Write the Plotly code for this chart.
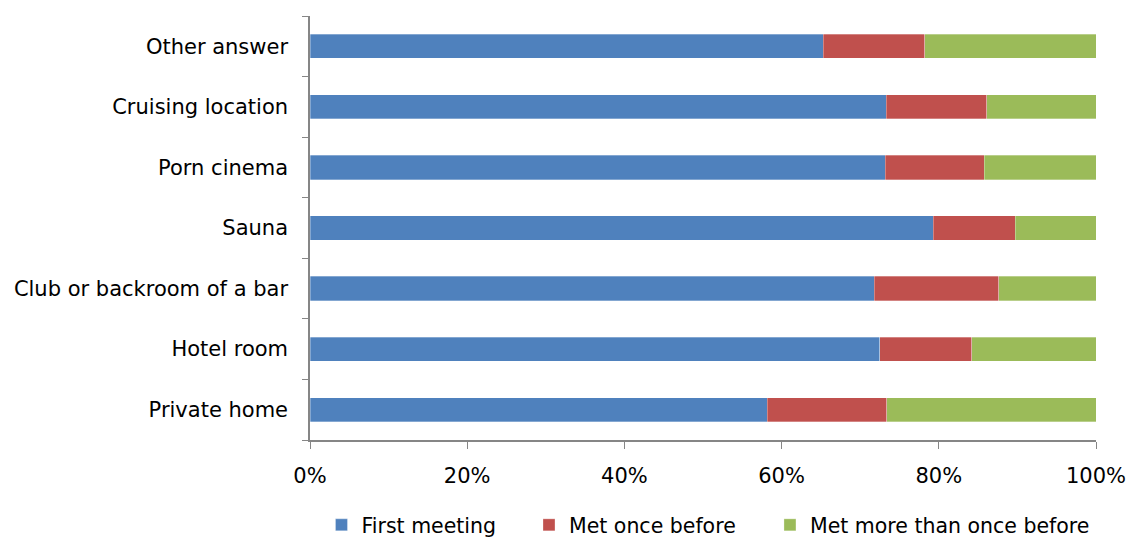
import plotly.graph_objects as go

categories = ["Private home", "Hotel room", "Club or backroom of a bar", "Sauna",
              "Porn cinema", "Cruising location", "Other answer"]
first_meeting = [58.2, 72.5, 71.8, 79.3, 73.2, 73.3, 65.3]
met_once = [15.2, 11.7, 15.8, 10.4, 12.6, 12.8, 12.9]
met_more = [26.6, 15.8, 12.4, 10.3, 14.2, 13.9, 21.8]
tick_vals = [0, 20, 40, 60, 80, 100]
tick_text = ["0%", "20%", "40%", "60%", "80%", "100%"]

series = [
    ("First meeting", first_meeting, "#4F81BD", "legend"),
    ("Met once before", met_once, "#C0504D", "legend2"),
    ("Met more than once before", met_more, "#9BBB59", "legend3"),
]

fig = go.Figure()
for name, vals, color, lg in series:
    fig.add_trace(go.Bar(
        y=categories, x=vals, name=name, orientation="h",
        marker=dict(color=color, line=dict(color="rgba(255,255,255,0.5)", width=0.6)),
        width=0.4, legend=lg,
    ))

font_family = "DejaVu Sans"
legend_common = dict(orientation="h", xanchor="left", y=-0.2005, yanchor="middle",
                     font=dict(size=20.5), itemwidth=30, bgcolor="rgba(0,0,0,0)")
fig.update_layout(
    barmode="stack",
    width=1128, height=541,
    margin=dict(l=310, r=32, t=16, b=101, autoexpand=False),
    plot_bgcolor="white", paper_bgcolor="white",
    font=dict(family=font_family, size=21, color="black"),
    showlegend=True,
    legend=dict(x=0.0146, **legend_common),
    legend2=dict(x=0.2786, **legend_common),
    legend3=dict(x=0.5852, **legend_common),
    xaxis=dict(range=[0, 100], tickvals=tick_vals, ticktext=tick_text,
               showgrid=False, zeroline=False, showline=True, linecolor="#868686",
               linewidth=1.5, ticks="outside", ticklen=7, tickcolor="#868686",
               ticklabelstandoff=9, automargin=False),
    yaxis=dict(showgrid=False, showline=True, linecolor="#868686", linewidth=1.5,
               ticks="outside", tickson="boundaries", ticklen=6, tickcolor="#868686",
               ticklabelstandoff=16, automargin=False),
)

fig.write_html("out.html", config={"displayModeBar": False},
               post_script="document.body.style.margin='0';")
